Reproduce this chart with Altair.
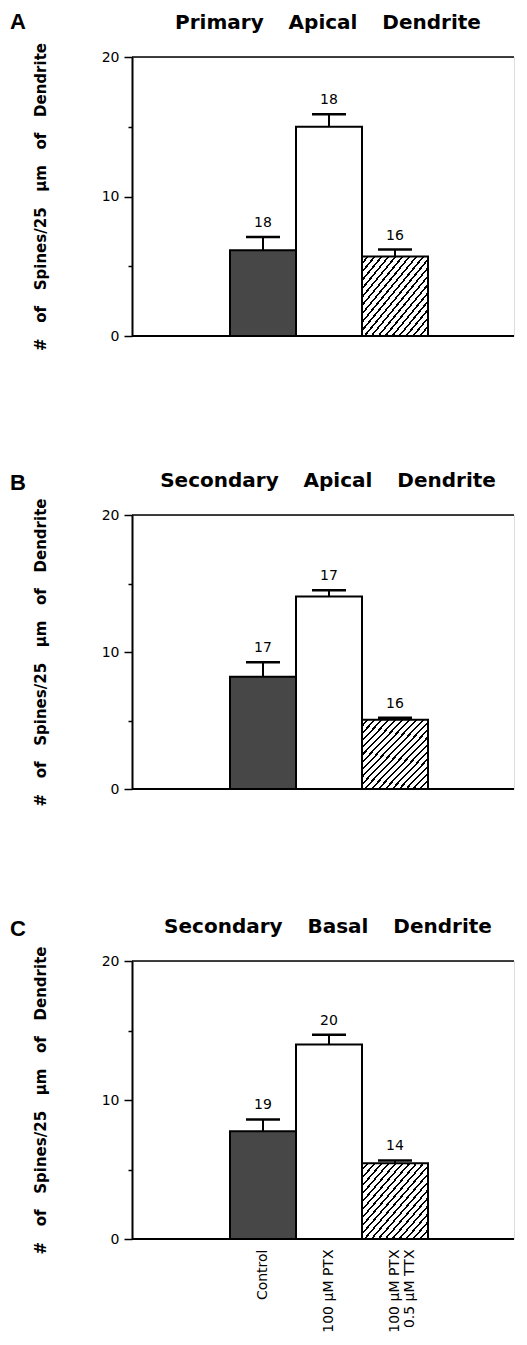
import altair as alt
import pandas as pd

# ---------------- data ----------------
groups = ["Control", "100 μM PTX", "100 μM PTX\n0.5 μM TTX"]
panel_letters = ["A", "B", "C"]
panel_titles = ["Primary Apical Dendrite", "Secondary Apical Dendrite", "Secondary Basal Dendrite"]

means_A = [6.15, 15.0, 5.7]
sem_A = [0.95, 0.9, 0.5]
n_A = [18, 18, 16]

means_B = [8.2, 14.05, 5.05]
sem_B = [1.05, 0.45, 0.15]
n_B = [17, 17, 16]

means_C = [7.75, 14.0, 5.45]
sem_C = [0.85, 0.7, 0.2]
n_C = [19, 20, 14]

y_ticks = [0, 5, 10, 15, 20]
y_title = "# of Spines/25 μm of Dendrite"

# ---------------- style ----------------
FONT = "DejaVu Sans"
W = 382
heights = [279, 274, 278]
NB = "\u00a0"


def spaced(s, k, extra=""):
    return (NB * k + extra).join(s.split(" "))


def hatch(n=19, frac=0.3):
    stops = []
    for k in range(n):
        a = k / n
        b = (k + 1 - frac) / n
        c = (k + 1) / n
        stops += [
            alt.GradientStop(offset=a, color="white"),
            alt.GradientStop(offset=b, color="white"),
            alt.GradientStop(offset=b, color="black"),
            alt.GradientStop(offset=c, color="black"),
        ]
    return alt.LinearGradient(gradient="linear", x1=0, y1=0, x2=1, y2=1, stops=stops)


def panel(idx, means, sems, ns, show_x):
    H = heights[idx]
    df = pd.DataFrame({"group": groups, "mean": means, "sem": sems, "n": ns})
    base = alt.Chart(df).transform_calculate(upper="datum.mean + datum.sem")

    if show_x:
        xaxis = alt.Axis(
            title=None, ticks=False, tickSize=0, domain=False, labelAngle=-90, labelPadding=10,
            labelFont=FONT, labelFontSize=14, labelColor="black",
            labelExpr="split(datum.label, '\\n')", labelLineHeight=15,
        )
    else:
        xaxis = alt.Axis(title=None, ticks=False, labels=False, domain=False)

    X = alt.X("group:N", sort=groups,
              scale=alt.Scale(range=[98, 296], paddingInner=0, paddingOuter=0),
              axis=xaxis)

    yscale = alt.Scale(domain=[0, 20], nice=False, zero=True)
    yaxis = alt.Axis(
        values=y_ticks,
        labelExpr="datum.value % 10 === 0 ? datum.label : ''",
        tickSize={"condition": {"test": "datum.value % 10 === 0", "value": 8}, "value": 4},
        tickWidth=1.5, tickColor="black",
        domainColor="black", domainWidth=2, grid=False,
        labelFont=FONT, labelFontSize=14, labelColor="black", labelPadding=5,
        titleX=-92, titleY=H / 2, titleAngle=270, titleAlign="center", titleBaseline="middle",
        titleFont=FONT, titleFontSize=15, titleFontWeight="bold", titleColor="black",
    )
    ytitle = spaced(y_title, 3)

    def Y(field):
        return alt.Y(field, type="quantitative", scale=yscale, axis=yaxis, title=ytitle)

    bar_ctrl = base.transform_filter(alt.FieldEqualPredicate(field="group", equal=groups[0])).mark_bar(
        fill="#474747", stroke="black", strokeWidth=2).encode(x=X, y=Y("mean"))
    bar_ptx = base.transform_filter(alt.FieldEqualPredicate(field="group", equal=groups[1])).mark_bar(
        fill="white", stroke="black", strokeWidth=2).encode(x=X, y=Y("mean"))
    bar_ttx = base.transform_filter(alt.FieldEqualPredicate(field="group", equal=groups[2])).mark_bar(
        fill=hatch(), stroke="black", strokeWidth=2).encode(x=X, y=Y("mean"))

    stem = base.mark_rule(color="black", strokeWidth=2).encode(x=X, y=Y("mean"), y2="upper:Q")
    cap = base.mark_tick(color="black", opacity=1, size=34, thickness=2.5, orient="horizontal").encode(
        x=X, y=Y("upper"))
    nlab = base.mark_text(baseline="alphabetic", dy=-10, font=FONT, fontSize=14, color="black").encode(
        x=X, y=Y("upper"), text="n:Q")

    frame = alt.Chart(pd.DataFrame({"edge": [0, 20], "w": [2.0, 1.5]})).mark_rule(color="black").encode(
        y=Y("edge"), strokeWidth=alt.StrokeWidth("w:Q", scale=None, legend=None))

    letter = alt.Chart(pd.DataFrame({"t": [panel_letters[idx]]})).mark_text(
        align="left", baseline="alphabetic", font="Liberation Sans", fontSize=22, fontWeight="bold",
        color="black").encode(text="t:N", x=alt.value(-122), y=alt.value(-28 if idx == 0 else -25))
    title = alt.Chart(pd.DataFrame({"t": [spaced(panel_titles[idx], 3, "\u2009")]})).mark_text(
        align="center", baseline="alphabetic", font=FONT, fontSize=20, fontWeight="bold",
        color="black").encode(text="t:N", x=alt.value(196), y=alt.value(-28))

    return alt.layer(bar_ctrl, bar_ptx, bar_ttx, frame, stem, cap, nlab, letter, title).properties(
        width=W, height=H)


pA = panel(0, means_A, sem_A, n_A, False)
pB = panel(1, means_B, sem_B, n_B, False)
pC = panel(2, means_C, sem_C, n_C, True)

chart = alt.vconcat(pA, alt.vconcat(pB, pC, spacing=109), spacing=119).properties(
    padding={"left": 1, "top": 2, "right": 0, "bottom": 0}
).configure_view(stroke=None).configure(background="white")

chart.save("out.html", embed_options={"renderer": "svg", "actions": False})
